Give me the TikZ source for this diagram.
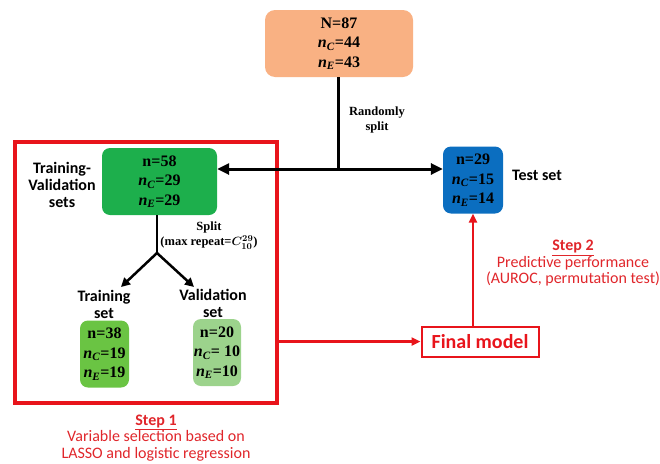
\documentclass[tikz,border=0pt]{standalone}
\usepackage{fontspec}
\setmainfont{Liberation Serif}
\newfontfamily\calfont{Carlito}
\usetikzlibrary{arrows.meta}
\definecolor{allorange}{HTML}{F9B183}
\definecolor{tvgreen}{HTML}{1DAF4C}
\definecolor{trgreen}{HTML}{6AC443}
\definecolor{vagreen}{HTML}{9CD38C}
\definecolor{testblue}{HTML}{0B6EC0}
\definecolor{stepred}{HTML}{E8141B}
\definecolor{steptext}{HTML}{E0262B}
\newcommand{\ncnt}[1]{\textit{n}\textsubscript{\textit{C}}=#1}
\newcommand{\nent}[1]{\textit{n}\textsubscript{\textit{E}}=#1}
\begin{document}
\begin{tikzpicture}[x=1pt,y=-1pt,
    countbox/.style={rounded corners=8pt,align=center,inner sep=0pt,minimum height=67pt,
      font=\bfseries\fontsize{16}{19.5}\selectfont},
    setlabel/.style={align=center,font=\calfont\bfseries\fontsize{16}{17}\selectfont},
    serlabel/.style={align=center,font=\bfseries\fontsize{12.5}{15}\selectfont},
    steplabel/.style={align=center,text=steptext,font=\calfont\fontsize{16}{16.5}\selectfont},
    blackarrow/.style={line width=3pt,-{Triangle[length=12pt,width=11pt]}},
    redarrow/.style={stepred,line width=2.5pt,-{Triangle[length=9pt,width=8pt]}}]
    \useasboundingbox (0,0) rectangle (660,463);
    % boxes
    \node[countbox,fill=allorange,minimum width=148pt,rounded corners=10pt] (all) at (339,43.5) {N=87\\\ncnt{44}\\\nent{43}};
    \node[countbox,fill=tvgreen,minimum width=115pt] (tv) at (159.5,181.5) {n=58\\\ncnt{29}\\\nent{29}};
    \node[countbox,fill=testblue,minimum width=60pt] (test) at (473,180) {n=29\\\ncnt{15}\\\nent{14}};
    \node[countbox,fill=trgreen,minimum width=49pt] (train) at (104.5,354) {n=38\\\ncnt{19}\\\nent{19}};
    \node[countbox,fill=vagreen,minimum width=48pt] (valid) at (217,352.5) {n=20\\\ncnt{ 10}\\\nent{10}};
    \node[draw=stepred,line width=4.5pt,minimum width=262pt,minimum height=261pt] (step1box) at (146,272.5) {};
    \node[draw=stepred,line width=2pt,text=stepred,minimum width=117pt,minimum height=30pt,
      font=\calfont\bfseries\fontsize{20}{20}\selectfont] (final) at (480,341.5) {Final model};
    % labels
    \node[serlabel] (randlab) at (377,119.5) {Randomly\\split};
    \node[setlabel] (tvlab) at (62,185) {Training-\\Validation\\sets};
    \node[setlabel] (testlab) at (537,175) {Test set};
    \node[serlabel] (splitlab) at (209,236) {Split\\(max repeat={\boldmath$C^{29}_{10}$})};
    \node[setlabel] (trlab) at (104,304) {Training\\set};
    \node[setlabel] (valab) at (213,303) {Validation\\set};
    \node[steplabel] (step1lab) at (156,438) {\textbf{\underline{Step 1}}\\Variable selection based on\\LASSO and logistic regression};
    \node[steplabel] (step2lab) at (573,263.5) {\textbf{\underline{Step 2}}\\Predictive performance\\(AUROC, permutation test)};
    % connectors
    \coordinate (split) at (338,169);
    \coordinate (fork) at (157,253);
    \draw[line width=3pt] (all.south -| split) -- (split);
    \draw[blackarrow] (split) -- (tv.east |- split);
    \draw[blackarrow] (split) -- (test.west |- split);
    \draw[line width=2.5pt] (tv.south -| fork) -- (fork);
    \draw[line width=2.5pt,-{Triangle[length=9pt,width=9pt]}] (fork) -- (121,287);
    \draw[line width=2.5pt,-{Triangle[length=9pt,width=9pt]}] (fork) -- (194,287);
    \draw[redarrow] (step1box.east |- final) -- (final.west);
    \draw[redarrow] (test.south |- final.north) -- (test.south);
\end{tikzpicture}
\end{document}
